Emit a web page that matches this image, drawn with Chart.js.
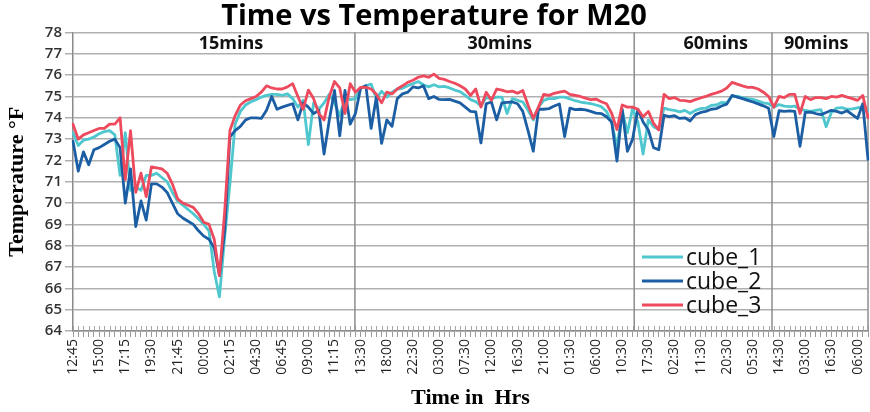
<!DOCTYPE html>
<html><head><meta charset="utf-8">
<script src="https://cdn.jsdelivr.net/npm/chart.js@4/dist/chart.umd.min.js"></script>
<style>html,body{margin:0;padding:0;background:#fff;}canvas{display:block;}</style>
</head><body>
<canvas id="c" width="870" height="412"></canvas>
<script>
// ---- data ----
const tickLabels = ['12:45','15:00','17:15','19:30','21:45','00:00','02:15','04:30','06:45','09:00','11:15',
  '13:30','18:00','22:30','03:00','07:30','12:00','16:30','21:00','01:30','06:00','10:30',
  '17:30','02:30','11:30','20:30','05:30','14:30','03:00','16:30','06:00'];
const readingsPerTick = 5;

const cube1 = [
  73.3,72.7,72.95,73.0,73.1,73.25,73.35,73.4,73.2,71.3,
  73.3,70.6,70.75,70.6,71.3,71.3,71.4,71.2,71.0,70.5,
  70.1,69.9,69.7,69.5,69.25,69.0,68.7,66.8,65.6,68.4,
  70.9,73.7,74.3,74.6,74.75,74.85,74.97,75.05,75.1,75.1,
  75.05,75.12,74.9,74.5,74.82,72.74,74.7,74.4,74.7,75.1,
  74.7,74.1,74.9,74.85,74.9,75.38,75.5,75.58,74.9,75.25,
  74.97,75.2,75.35,75.38,75.5,75.6,75.7,75.55,75.45,75.55,
  75.45,75.47,75.4,75.3,75.23,75.05,74.85,74.76,74.55,74.95,
  74.9,74.97,74.97,74.2,74.9,74.82,74.74,74.35,73.9,74.5,
  74.82,74.9,74.9,74.97,74.97,74.88,74.8,74.74,74.7,74.66,
  74.6,74.52,74.3,73.8,72.6,74.35,73.3,74.45,73.8,72.3,
  73.9,73.58,73.45,74.45,74.38,74.35,74.28,74.35,74.2,74.35,
  74.43,74.45,74.58,74.6,74.72,74.7,75.0,75.02,74.95,74.9,
  74.86,74.78,74.7,74.66,74.5,74.62,74.55,74.52,74.55,74.4,
  74.35,74.3,74.35,74.38,73.58,74.25,74.45,74.48,74.4,74.42,
  74.47,74.5,74.35];

const cube2 = [
  72.9,71.5,72.4,71.8,72.5,72.6,72.75,72.9,73.0,72.6,
  70.0,71.6,68.9,70.1,69.2,70.9,70.9,70.75,70.5,70.0,
  69.5,69.3,69.15,69.0,68.7,68.45,68.3,67.9,66.6,68.7,
  73.1,73.4,73.6,73.9,74.0,74.0,73.97,74.35,75.0,74.4,
  74.5,74.58,74.66,73.9,74.7,74.5,74.2,74.35,72.3,73.9,
  75.28,73.15,75.28,73.7,74.2,75.4,75.5,73.5,74.97,72.8,
  73.9,73.6,74.9,75.12,75.2,75.45,75.4,75.5,74.9,75.0,
  74.86,74.85,74.86,74.78,74.7,74.5,74.3,74.28,72.82,74.66,
  74.74,73.9,74.7,74.72,74.74,74.66,74.3,73.4,72.43,74.4,
  74.4,74.43,74.55,74.65,73.12,74.45,74.38,74.4,74.37,74.3,
  74.22,74.2,74.05,73.8,71.97,74.4,72.43,73.0,74.4,73.8,
  73.43,72.6,72.5,74.12,74.05,74.1,73.97,74.0,73.85,74.15,
  74.25,74.3,74.4,74.43,74.55,74.64,75.05,74.97,74.9,74.82,
  74.74,74.65,74.56,74.45,73.12,74.33,74.3,74.32,74.3,72.66,
  74.25,74.27,74.2,74.15,74.25,74.35,74.3,74.22,74.33,74.15,
  73.97,74.66,72.05];

const cube3 = [
  73.7,73.0,73.2,73.3,73.4,73.5,73.5,73.7,73.7,74.0,
  71.1,73.4,70.5,71.4,70.3,71.7,71.65,71.6,71.4,70.9,
  70.2,70.0,69.9,69.8,69.5,69.1,69.0,68.3,66.6,69.6,
  73.4,74.1,74.6,74.8,74.9,75.0,75.2,75.5,75.4,75.35,
  75.35,75.45,75.6,75.0,74.4,75.3,74.9,74.2,73.9,75.0,
  75.7,75.4,74.2,75.6,75.2,75.43,75.43,75.35,75.1,74.7,
  75.2,75.12,75.35,75.5,75.66,75.76,75.9,75.97,75.9,76.05,
  75.85,75.8,75.7,75.62,75.5,75.35,75.05,75.35,74.5,75.2,
  74.82,75.35,75.3,75.22,75.25,75.15,75.28,74.6,73.97,74.5,
  75.1,75.05,75.15,75.2,75.25,75.1,75.05,75.0,74.92,74.85,
  74.88,74.75,74.66,74.2,73.45,74.6,74.5,74.5,74.4,74.05,
  74.3,73.74,73.43,75.1,74.9,74.95,74.82,74.8,74.76,74.85,
  74.93,75.0,75.1,75.17,75.25,75.4,75.66,75.58,75.5,75.43,
  75.43,75.35,75.2,75.0,74.5,75.0,74.95,75.1,75.1,74.2,
  75.0,74.85,74.95,74.95,74.9,75.0,74.97,75.05,74.97,74.9,
  74.82,75.05,74.0];

const seriesNames = ['cube_1','cube_2','cube_3'];
const sectionNames = ['15mins','30mins','60mins','90mins'];
// category position where each section ends (boundary line)
const sectionEnds = [53.9, 107.3, 133.65, 152];

// ---- presentation ----
const sectionLabelAt = [30.2, 81.6, 122.9, 142.1];
const colors = ['#4EC7CE', '#1C5EA3', '#EE4A5E'];
const categories = cube1.map((_, i) => (i % readingsPerTick === 0 ? tickLabels[i / readingsPerTick] : ''));

const overlay = {
  id: 'overlay',
  beforeDatasetsDraw(chart) {
    const { ctx, chartArea: a, scales: { x, y } } = chart;
    ctx.save();
    ctx.strokeStyle = '#a6a6a6';
    ctx.lineWidth = 1;
    ctx.beginPath();
    for (let i = 0; i < categories.length; i++) {
      const px = Math.round(x.getPixelForValue(i)) + 0.5;
      ctx.moveTo(px, a.bottom - 5);
      ctx.lineTo(px, a.bottom);
    }
    ctx.stroke();
    ctx.strokeStyle = '#8c8c8c';
    ctx.lineWidth = 1.5;
    sectionEnds.forEach(v => {
      const px = x.getPixelForValue(v);
      ctx.beginPath();
      ctx.moveTo(px, a.top);
      ctx.lineTo(px, a.bottom);
      ctx.stroke();
    });
    ctx.fillStyle = '#111';
    ctx.font = 'bold 18px "Open Sans"';
    ctx.textAlign = 'center';
    ctx.textBaseline = 'middle';
    sectionNames.forEach((n, k) => {
      ctx.fillText(n, x.getPixelForValue(sectionLabelAt[k]), y.getPixelForValue(77.45));
    });
    ctx.restore();
  },
  afterDatasetsDraw(chart) {
    const { ctx, chartArea: a } = chart;
    ctx.save();
    ctx.font = '23px "Open Sans"';
    ctx.textAlign = 'left';
    ctx.textBaseline = 'middle';
    chart.data.datasets.forEach((ds, k) => {
      const yy = a.bottom - 74 + k * 24;
      ctx.strokeStyle = ds.borderColor;
      ctx.lineWidth = 2.8;
      ctx.beginPath();
      ctx.moveTo(a.right - 226, yy);
      ctx.lineTo(a.right - 185, yy);
      ctx.stroke();
      ctx.fillStyle = '#111';
      ctx.fillText(ds.label, a.right - 182, yy + 1);
    });
    ctx.restore();
  }
};

new Chart(document.getElementById('c').getContext('2d'), {
  type: 'line',
  data: {
    labels: categories,
    datasets: [
      { label: seriesNames[0], data: cube1, borderColor: colors[0], order: 3 },
      { label: seriesNames[1], data: cube2, borderColor: colors[1], order: 2 },
      { label: seriesNames[2], data: cube3, borderColor: colors[2], order: 1 }
    ]
  },
  options: {
    responsive: false,
    animation: false,
    devicePixelRatio: 1,
    layout: { padding: { left: 0, right: 2, top: 0, bottom: 0 } },
    elements: {
      point: { radius: 0 },
      line: { borderWidth: 2.8, tension: 0, borderJoinStyle: 'round', borderCapStyle: 'round', fill: false }
    },
    plugins: {
      legend: { display: false },
      tooltip: { enabled: false },
      title: {
        display: true,
        text: 'Time vs Temperature for M20',
        color: '#000',
        font: { family: '"Open Sans"', size: 29, weight: 'bold', lineHeight: 1.0 },
        padding: { top: 2, bottom: 1.5 }
      }
    },
    scales: {
      x: {
        type: 'category',
        offset: false,
        grid: { drawOnChartArea: false, drawTicks: true, tickLength: 6, color: '#9a9a9a', lineWidth: 1 },
        border: { display: true, color: '#8a8a8a', width: 1.5 },
        ticks: {
          autoSkip: false, maxRotation: 90, minRotation: 90, padding: 2, color: '#222',
          font: { family: '"Open Sans"', size: 14 },
          callback: (v, i) => categories[i]
        },
        title: {
          display: true, text: 'Time in  Hrs', color: '#000',
          font: { family: '"Liberation Serif"', size: 22, weight: 'bold', lineHeight: 1.2 },
          padding: { top: 0, bottom: 0 }
        },
        afterFit: s => { s.height = 81; s.paddingLeft = 0; s.paddingRight = 0; }
      },
      y: {
        min: 64, max: 78,
        ticks: { stepSize: 1, padding: 3, color: '#333', font: { family: '"Open Sans"', size: 15, weight: '600' } },
        grid: { color: '#b0b0b0', lineWidth: 1.5, tickLength: 8, drawTicks: true },
        border: { color: '#8a8a8a', width: 1.5 },
        title: {
          display: true, text: 'Temperature °F', color: '#000',
          font: { family: '"Liberation Serif"', size: 22, weight: 'bold', lineHeight: 1.2 },
          padding: { top: 4, bottom: 0 }
        },
        afterFit: s => { s.width = 73; }
      }
    }
  },
  plugins: [overlay]
});
</script>
</body></html>
